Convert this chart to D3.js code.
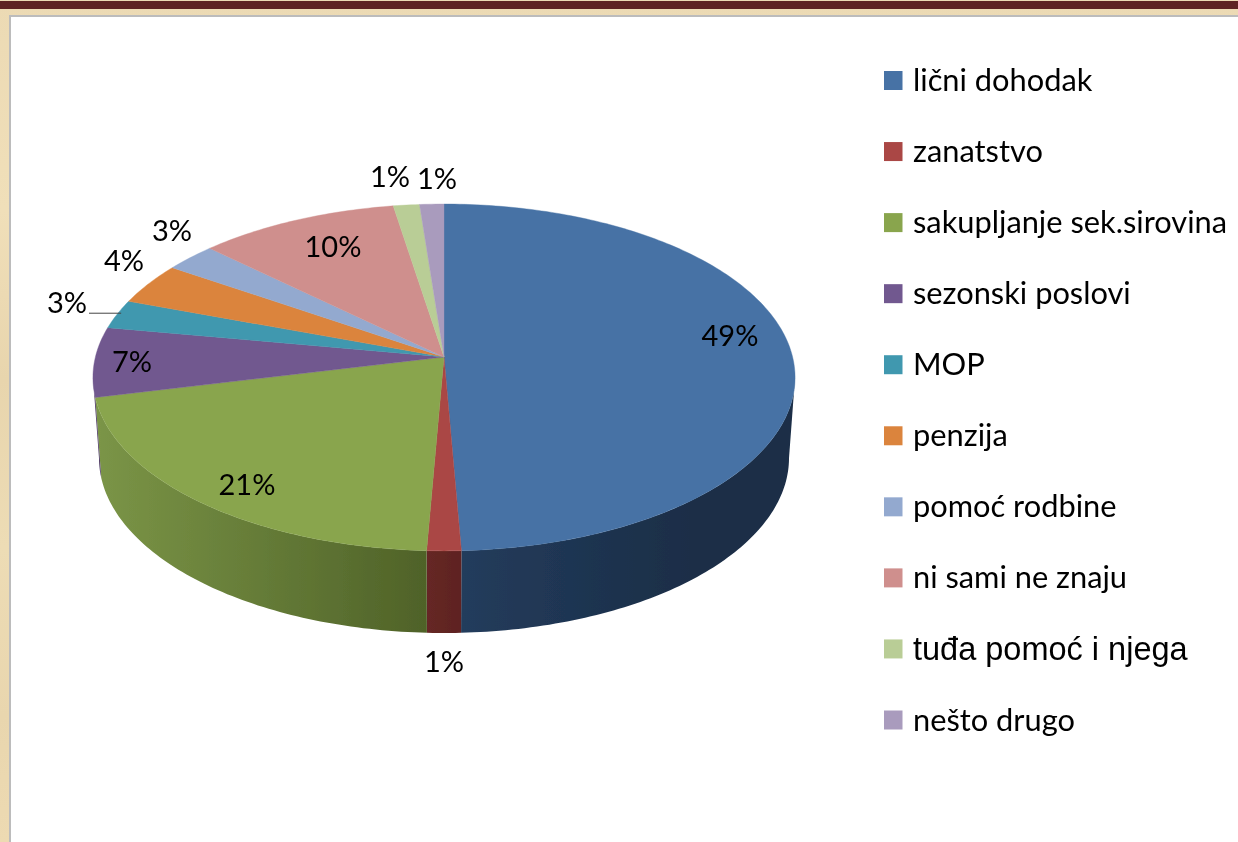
<!DOCTYPE html>
<html><head><meta charset="utf-8">
<script src="https://cdn.jsdelivr.net/npm/d3@7/dist/d3.min.js"></script>
<style>html,body{margin:0;padding:0;background:#fff;overflow:hidden}svg{display:block}</style>
</head><body><svg id="c" width="1238" height="842"></svg>
<script>
const categories = ["lični dohodak","zanatstvo","sakupljanje sek.sirovina","sezonski poslovi","MOP","penzija","pomoć rodbine","ni sami ne znaju","tuđa pomoć i njega","nešto drugo"];
const values = [49.3,1.4,20.6,6.5,2.7,3.9,2.65,10.35,1.35,1.25];
const valueLabels = ["49%","1%","21%","7%","3%","4%","3%","10%","1%","1%"];
const colors = ["#4672a5","#aa4644","#89a54e","#71588f","#4198af","#db843d","#93a9cf","#cf8f8d","#b9cd96","#a99bbd"];
// wall shading: colour at the left and at the right end of each visible wall
const wallLeft  = ["#233c5c","#662725","#7b9547","#4d3a63"];
const wallRight = ["#1a2d46","#5e2322","#4f6228","#4d3a63"];

const svg = d3.select("#c");
const defs = svg.append("defs");
const bgGrad = defs.append("linearGradient").attr("id","bg").attr("x1",0).attr("y1",0).attr("x2",0).attr("y2",1);
[["0","#ecdab4"],["0.25","#f0dfb9"],["0.45","#e8d5ad"],["0.65","#eddcb5"],["0.85","#e9d6ae"],["1","#eddab2"]]
  .forEach(s=>bgGrad.append("stop").attr("offset",s[0]).attr("stop-color",s[1]));
const blur = defs.append("filter").attr("id","soft").attr("x","-5%").attr("y","-5%").attr("width","110%").attr("height","110%");
blur.append("feGaussianBlur").attr("stdDeviation",0.45);

// page frame
svg.append("rect").attr("width",1238).attr("height",842).attr("fill","url(#bg)");
svg.append("rect").attr("x",0).attr("y",1).attr("width",1238).attr("height",8).attr("fill","#5e2323");
svg.append("rect").attr("x",9).attr("y",15).attr("width",1229).attr("height",827).attr("fill","#bcbcbc");
svg.append("rect").attr("x",11).attr("y",17).attr("width",1227).attr("height",825).attr("fill","#fff");

// perspective-projected disc: the apex sits above the ellipse centre
const k = 0.118;
const topDisc = {x:444, y:357, a:348.6, b:171};
const baseDisc = {x:444, y:437.3, a:342.6, b:172.6};
const project = (disc, ang, r=1) => {
  const u = r*Math.sin(ang), v = -r*Math.cos(ang), w = 1-k*v;
  return [disc.x + disc.a*u/w, disc.y + disc.b*v/w];
};
const arcs = d3.pie().sort(null).value(d=>d)(values);
const sampled = (a0,a1,n) => d3.range(n+1).map(i=>a0+(a1-a0)*i/n);
const line = d3.line();

const chart = svg.append("g").attr("filter","url(#soft)");

// side wall: only the part between the two silhouette tangents is visible
const tangentR = Math.acos(-k), tangentL = 2*Math.PI - tangentR;
arcs.forEach((d,i)=>{
  const a0 = Math.max(d.startAngle,tangentR), a1 = Math.min(d.endAngle,tangentL);
  if (a1 <= a0) return;
  const n = Math.max(4,Math.ceil((a1-a0)*60));
  const xs = sampled(a0,a1,n).map(t=>project(topDisc,t)[0]);
  const g = defs.append("linearGradient").attr("id","w"+i).attr("gradientUnits","userSpaceOnUse")
    .attr("x1",d3.min(xs)).attr("x2",i===0?d3.min(xs)+240:d3.max(xs)).attr("y1",0).attr("y2",0);
  g.append("stop").attr("offset",0).attr("stop-color",wallLeft[i]);
  g.append("stop").attr("offset",1).attr("stop-color",wallRight[i]);
  const pts = sampled(a0,a1,n).map(t=>project(topDisc,t)).concat(sampled(a1,a0,n).map(t=>project(baseDisc,t)));
  chart.append("path").attr("d",line(pts)+"Z").attr("fill",`url(#w${i})`);
});

// top face
arcs.forEach((d,i)=>{
  const n = Math.max(6,Math.ceil((d.endAngle-d.startAngle)*60));
  const pts = [[topDisc.x,topDisc.y]].concat(sampled(d.startAngle,d.endAngle,n).map(t=>project(topDisc,t)));
  chart.append("path").attr("d",line(pts)+"Z").attr("fill",colors[i]).attr("stroke",colors[i]).attr("stroke-width",0.4);
});

// leader line of the MOP label
const mopIdx = categories.indexOf("MOP");
const mopRim = project(topDisc,(arcs[mopIdx].startAngle+arcs[mopIdx].endAngle)/2,1);
svg.append("line").attr("x1",89).attr("x2",mopRim[0]+4).attr("y1",mopRim[1]-1).attr("y2",mopRim[1]-1)
  .attr("stroke","#444").attr("stroke-width",1);

const texts = svg.append("g").attr("filter","url(#soft)");

// data labels (hand-placed in the source chart)
const labelCentres = [[730,336],[444,662],[247,485],[132,362],[67,303],[124,261],[172,231],[333,247],[390,177],[437,179]];
texts.append("g").selectAll("text").data(valueLabels).join("text")
  .attr("x",(d,i)=>labelCentres[i][0]).attr("y",(d,i)=>labelCentres[i][1]+10)
  .attr("text-anchor","middle").attr("font-family","Lato").attr("font-size",29).attr("fill","#000").text(d=>d);

// legend
const isArial = d => d.startsWith("tuđa");
const rowY = d3.scalePoint().domain(categories).range([80.5,720]);
const leg = texts.append("g").selectAll("g").data(categories).join("g").attr("transform",d=>`translate(0,${rowY(d)})`);
leg.append("rect").attr("x",884).attr("y",-9.5).attr("width",18.5).attr("height",19).attr("fill",(d,i)=>colors[i]);
leg.append("text").attr("x",913).attr("y",d=>isArial(d)?11:10.5).attr("fill","#000")
  .attr("font-family",d=>isArial(d)?"Liberation Sans":"Lato")
  .attr("font-size",d=>isArial(d)?32.5:30.8).text(d=>d);
</script></body></html>
